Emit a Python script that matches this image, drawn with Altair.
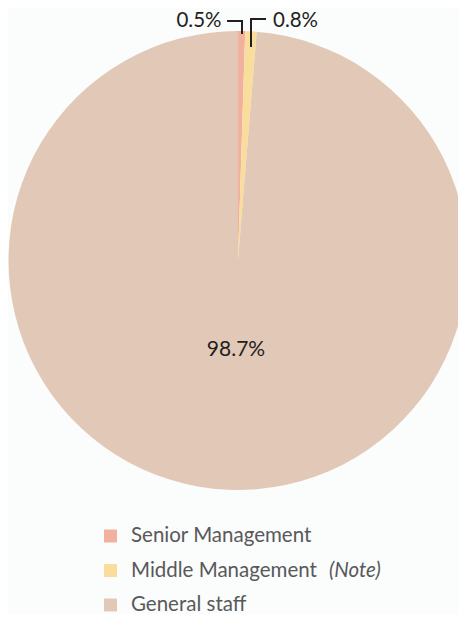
import altair as alt
import pandas as pd

categories = ["Senior Management", "Middle Management", "General staff"]
shares = [0.5, 0.8, 98.7]
pct_labels = ["0.5%", "0.8%", "98.7%"]
legend_labels = ["Senior Management", "Middle Management", "General staff"]
legend_notes = ["", "(Note)", ""]
colors = ["#f2b09e", "#f9dd9c", "#e2c8b6"]

df = pd.DataFrame({
    "category": categories,
    "share": shares,
    "pct": pct_labels,
    "label": legend_labels,
    "note": legend_notes,
    "order": list(range(len(categories))),
})

FONT = "Lato"
color_scale = alt.Scale(domain=categories, range=colors)
base = alt.Chart(df)

pie = base.mark_arc(radius=229.5, strokeWidth=0).encode(
    theta=alt.Theta("share:Q", stack=True),
    color=alt.Color("category:N", scale=color_scale, legend=None),
    order=alt.Order("order:Q"),
    x=alt.value(230), y=alt.value(252.5),
)

big = base.transform_filter(alt.datum.category == "General staff").mark_text(
    font=FONT, fontSize=21, color="#231f20", align="center", baseline="middle"
).encode(text="pct:N", x=alt.value(228), y=alt.value(342))

lab_sen = base.transform_filter(alt.datum.category == "Senior Management").mark_text(
    font=FONT, fontSize=20.5, color="#231f20", align="right", baseline="middle"
).encode(text="pct:N", x=alt.value(213.5), y=alt.value(13))

lab_mid = base.transform_filter(alt.datum.category == "Middle Management").mark_text(
    font=FONT, fontSize=20.5, color="#231f20", align="left", baseline="middle"
).encode(text="pct:N", x=alt.value(265), y=alt.value(13))

lc = "#231f20"
lines = [
    alt.Chart(df).mark_rule(color=lc, strokeWidth=2).encode(x=alt.value(219), x2=alt.value(235), y=alt.value(13)),
    alt.Chart(df).mark_rule(color=lc, strokeWidth=2).encode(x=alt.value(234), y=alt.value(13), y2=alt.value(26)),
    alt.Chart(df).mark_rule(color=lc, strokeWidth=2).encode(x=alt.value(243), y=alt.value(11), y2=alt.value(39)),
    alt.Chart(df).mark_rule(color=lc, strokeWidth=2).encode(x=alt.value(242), x2=alt.value(258), y=alt.value(11)),
]

ypos = alt.Y("category:N", scale=alt.Scale(domain=categories, range=[528, 597], padding=0), axis=None)

leg_sq = base.mark_square(size=169, opacity=1).encode(
    x=alt.value(102.5), y=ypos,
    color=alt.Color("category:N", scale=color_scale, legend=None),
)
leg_txt = base.mark_text(
    font=FONT, fontSize=20.5, color="#58595b", align="left", baseline="middle"
).encode(x=alt.value(123), y=ypos, text="label:N")
leg_note = base.transform_filter(alt.datum.note != "").mark_text(
    font=FONT, fontSize=20.5, fontStyle="italic", color="#58595b", align="left", baseline="middle"
).encode(x=alt.value(321), y=ypos, text="note:N")

chart = alt.layer(pie, big, lab_sen, lab_mid, *lines, leg_sq, leg_txt, leg_note).properties(
    width=450, height=606, padding=0, autosize="none", background="#fbfcfc"
).configure_view(stroke=None)

chart.save("out.html", embed_options={"renderer": "svg", "actions": False})
